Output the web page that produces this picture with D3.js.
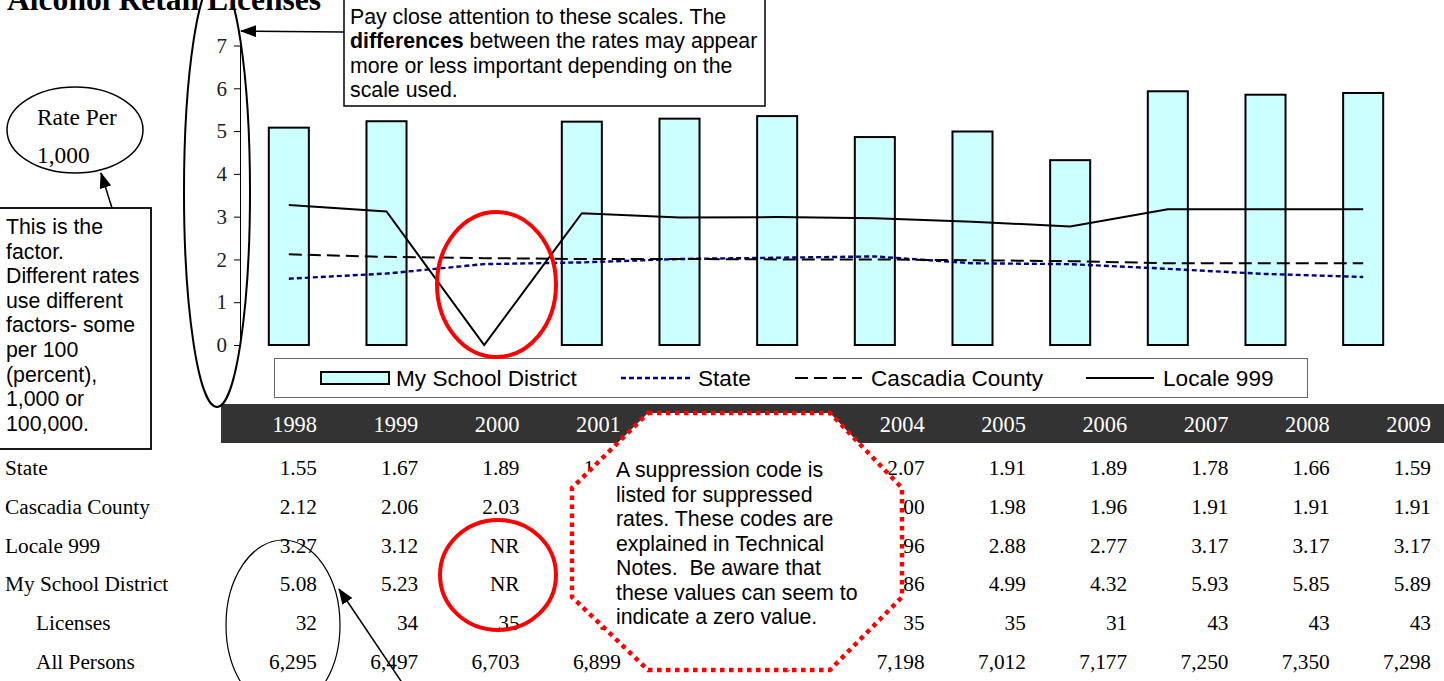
<!DOCTYPE html>
<html>
<head>
<meta charset="utf-8">
<script src="https://cdn.jsdelivr.net/npm/d3@7"></script>
<style>
    body { margin:0; background:#fff; }
    svg { display:block; }
    .serif { font-family:"Liberation Serif","Times New Roman",serif; }
    .sans { font-family:"Liberation Sans",Arial,sans-serif; }
</style>
</head>
<body>
<svg id="chart" width="1444" height="681"></svg>
<script>
// values ; NR = suppressed (null)
const years    = ['1998','1999','2000','2001','2002','2003','2004','2005','2006','2007','2008','2009'];
const state    = [1.55, 1.67, 1.89, 1.93, 2.01, 2.04, 2.07, 1.91, 1.89, 1.78, 1.66, 1.59];
const county   = [2.12, 2.06, 2.03, 2.01, 2.01, 2.00, 2.00, 1.98, 1.96, 1.91, 1.91, 1.91];
const locale   = [3.27, 3.12, null, 3.08, 2.98, 2.99, 2.96, 2.88, 2.77, 3.17, 3.17, 3.17];
const district = [5.08, 5.23, null, 5.22, 5.29, 5.35, 4.86, 4.99, 4.32, 5.93, 5.85, 5.89];
const licenses = [32, 34, 35, 36, 37, 38, 35, 35, 31, 43, 43, 43];
const persons  = [6295, 6497, 6703, 6899, 7000, 7100, 7198, 7012, 7177, 7250, 7350, 7298];
const yTicks   = [0, 1, 2, 3, 4, 5, 6, 7];

const svg = d3.select('#chart');
const rateFmt = d3.format('.2f'), countFmt = d3.format(',');

svg.append('defs').append('marker')
    .attr('id','arrow')
    .attr('markerUnits','userSpaceOnUse')
    .attr('markerWidth',16).attr('markerHeight',12)
    .attr('refX',15).attr('refY',6)
    .attr('orient','auto')
    .append('path').attr('d','M0,0 L16,6 L0,12 Z').attr('fill','#000');

// ---- chart
const x = d3.scaleBand().domain(years).range([240,1412]).paddingInner(0.59).paddingOuter(0.295);
const y = d3.scaleLinear().domain([0,7]).range([345,45.5]);
const cx = (d,i) => x(years[i]) + x.bandwidth()/2;

const yAxis = svg.append('g')
    .attr('class','serif')
    .attr('transform','translate(240,0)')
    .call(d3.axisLeft(y).tickValues(yTicks).tickFormat(d3.format('d')).tickSize(6).tickSizeOuter(0).tickPadding(7));
yAxis.select('.domain').attr('stroke','#000');
yAxis.selectAll('.tick line').attr('stroke','#000');
yAxis.selectAll('text').attr('font-size',21).attr('fill','#222').attr('font-family','"Liberation Serif",serif');

svg.append('g').selectAll('rect')
    .data(district.map((v,i) => ({year:years[i], v})).filter(d => d.v != null))
    .join('rect')
    .attr('x', d => x(d.year))
    .attr('y', d => y(d.v))
    .attr('width', x.bandwidth())
    .attr('height', d => y(0) - y(d.v))
    .attr('fill','#CCFFFF')
    .attr('stroke','#000')
    .attr('stroke-width',2);

// suppressed Locale value is plotted as zero, like the original
const line = d3.line().x(cx).y(d => y(d ?? 0));
const series = [
    { name:'State', values:state, color:'#000080', dash:'5,3', width:2.4 },
    { name:'Cascadia County', values:county, color:'#000', dash:'13,6', width:2 },
    { name:'Locale 999', values:locale, color:'#000', dash:null, width:2 }
];
svg.append('g').selectAll('path')
    .data(series)
    .join('path')
    .attr('d', s => line(s.values))
    .attr('fill','none')
    .attr('stroke', s => s.color)
    .attr('stroke-width', s => s.width)
    .attr('stroke-dasharray', s => s.dash);

// ---- legend
const legend = svg.append('g').attr('class','sans');
legend.append('rect').attr('x',274.5).attr('y',358.5).attr('width',1033).attr('height',39)
    .attr('fill','#fff').attr('stroke','#666').attr('stroke-width',1);
legend.append('rect').attr('x',321).attr('y',372).attr('width',68).attr('height',12)
    .attr('fill','#CCFFFF').attr('stroke','#000').attr('stroke-width',2);
const legendItems = [
    { x0:396, text:'My School District' },
    { x0:621, x1:690, x:698, s:series[0] },
    { x0:795, x1:862, x:871, s:series[1] },
    { x0:1086, x1:1154, x:1163, s:series[2] }
];
legendItems.forEach(it => {
    if (it.s) {
        legend.append('line').attr('x1',it.x0).attr('x2',it.x1).attr('y1',378).attr('y2',378)
            .attr('stroke',it.s.color).attr('stroke-width',it.s.width).attr('stroke-dasharray',it.s.dash);
    }
    legend.append('text').attr('x', it.x ?? it.x0).attr('y',386)
        .attr('font-size',22.6).attr('fill','#000')
        .text(it.text ?? it.s.name);
});

// ---- table
const col = d3.scalePoint().domain(years).range([317,1431]);
const rows = [
    { label:'State', values:state, fmt:rateFmt, indent:5 },
    { label:'Cascadia County', values:county, fmt:rateFmt, indent:5 },
    { label:'Locale 999', values:locale, fmt:rateFmt, indent:5 },
    { label:'My School District', values:district, fmt:rateFmt, indent:5 },
    { label:'Licenses', values:licenses, fmt:countFmt, indent:36 },
    { label:'All Persons', values:persons, fmt:countFmt, indent:36 }
];
const row = d3.scalePoint().domain(rows.map(r => r.label)).range([468,662]);

const table = svg.append('g').attr('class','serif');
table.append('rect').attr('x',221).attr('y',404).attr('width',1223).attr('height',39).attr('fill','#333');
table.selectAll('text.year')
    .data(years)
    .join('text')
    .attr('class','year')
    .attr('x', d => col(d)).attr('y',432)
    .attr('text-anchor','end').attr('font-size',22.4).attr('fill','#fff')
    .text(d => d);

const rowG = table.selectAll('g.row')
    .data(rows)
    .join('g')
    .attr('class','row')
    .attr('transform', r => `translate(0,${row(r.label) + 7})`);
rowG.append('text').attr('x', r => r.indent).attr('font-size',21.3).text(r => r.label);
rowG.selectAll('text.val')
    .data(r => r.values.map((v,i) => ({ year:years[i], txt: v == null ? 'NR' : r.fmt(v) })))
    .join('text')
    .attr('class','val')
    .attr('x', d => col(d.year))
    .attr('text-anchor','end').attr('font-size',21.3)
    .text(d => d.txt);

// ---- annotations
svg.append('text').attr('class','serif').attr('x',7).attr('y',10)
    .attr('font-size',31.6).attr('font-weight','bold').text('Alcohol Retail Licenses');

svg.append('ellipse').attr('cx',217).attr('cy',192).attr('rx',33).attr('ry',215)
    .attr('fill','none').attr('stroke','#000').attr('stroke-width',2);

const note = svg.append('g').attr('class','sans');
note.append('rect').attr('x',344).attr('y',-2).attr('width',421).attr('height',108)
    .attr('fill','#fff').attr('stroke','#000').attr('stroke-width',1.5);
const noteLines = [
    [['Pay close attention to these scales. The', false]],
    [['differences', true], [' between the rates may appear', false]],
    [['more or less important depending on the', false]],
    [['scale used.', false]]
];
noteLines.forEach((ln,i) => {
    const t = note.append('text').attr('x',350).attr('y',24 + i*24.3).attr('font-size',21.3)
        .style('white-space','pre');
    ln.forEach(([s,b]) => t.append('tspan').attr('font-weight', b ? 'bold' : null).text(s));
});
svg.append('line').attr('x1',344).attr('y1',32).attr('x2',241).attr('y2',31)
    .attr('stroke','#000').attr('stroke-width',1.5).attr('marker-end','url(#arrow)');

svg.append('ellipse').attr('cx',75).attr('cy',130).attr('rx',68).attr('ry',43)
    .attr('fill','#fff').attr('stroke','#000').attr('stroke-width',1.5);
svg.append('text').attr('class','serif').attr('x',37).attr('y',125).attr('font-size',23.4).text('Rate Per');
svg.append('text').attr('class','serif').attr('x',37).attr('y',163).attr('font-size',23.4).text('1,000');
svg.append('line').attr('x1',112).attr('y1',208).attr('x2',101).attr('y2',173)
    .attr('stroke','#000').attr('stroke-width',1.5).attr('marker-end','url(#arrow)');

const factor = svg.append('g').attr('class','sans');
factor.append('rect').attr('x',-1).attr('y',208).attr('width',152).attr('height',241)
    .attr('fill','#fff').attr('stroke','#000').attr('stroke-width',1.8);
['This is the','factor.','Different rates','use different','factors- some','per 100','(percent),','1,000 or','100,000.']
    .forEach((s,i) => factor.append('text').attr('x',6).attr('y',234 + i*24.6).attr('font-size',21.3).text(s));

svg.append('ellipse').attr('cx',496.5).attr('cy',284.5).attr('rx',59.5).attr('ry',72.5)
    .attr('fill','none').attr('stroke','#f00').attr('stroke-width',4);
svg.append('ellipse').attr('cx',498).attr('cy',575).attr('rx',58).attr('ry',55)
    .attr('fill','none').attr('stroke','#f00').attr('stroke-width',4);
svg.append('ellipse').attr('cx',283).attr('cy',625).attr('rx',57).attr('ry',85)
    .attr('fill','none').attr('stroke','#000').attr('stroke-width',1.2);
svg.append('line').attr('x1',407).attr('y1',690).attr('x2',339).attr('y2',589)
    .attr('stroke','#000').attr('stroke-width',1.5).attr('marker-end','url(#arrow)');

// suppression note covers part of the table, as in the original
const oct = [[648,413],[830,413],[902,488],[902,597],[830,670],[648,670],[572,597],[572,488]];
svg.append('polygon').attr('points', oct.map(p => p.join(',')).join(' '))
    .attr('fill','#fff').attr('stroke','#f00').attr('stroke-width',4.5).attr('stroke-dasharray','4.5,4.5');
const octG = svg.append('g').attr('class','sans');
['A suppression code is','listed for suppressed','rates. These codes are','explained in Technical',
 'Notes.  Be aware that','these values can seem to','indicate a zero value.']
    .forEach((s,i) => octG.append('text').attr('x',616).attr('y',477 + i*24.5).attr('font-size',21.3)
        .style('white-space','pre').text(s));
</script>
</body>
</html>
